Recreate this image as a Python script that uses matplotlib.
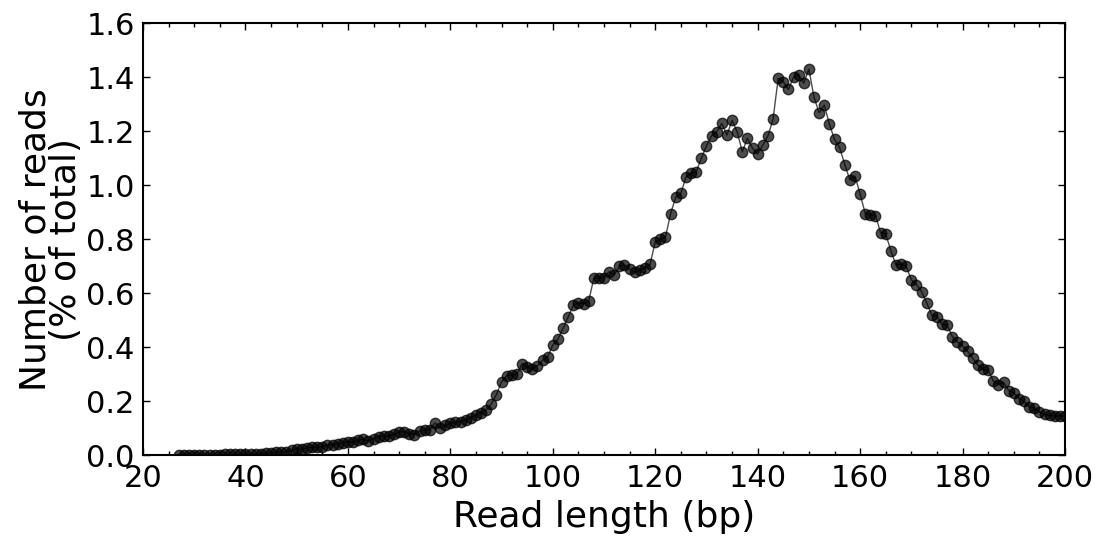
import matplotlib
matplotlib.use("Agg")
import matplotlib.pyplot as plt
from matplotlib.ticker import MultipleLocator, FormatStrFormatter
import numpy as np

# read length (bp) and share of reads (% of total)
lengths = np.arange(27, 201)
reads = [
    0.002, 0.002, 0.002, 0.002, 0.002, 0.002, 0.002, 0.002, 0.002,   # 27-35
    0.003, 0.003, 0.003, 0.003, 0.004, 0.004, 0.004, 0.005,          # 36-43
    0.008, 0.010, 0.011, 0.012, 0.013, 0.018, 0.025, 0.022, 0.028,   # 44-52
    0.030, 0.030, 0.032, 0.038, 0.040, 0.042, 0.046, 0.050, 0.048,   # 53-61
    0.055, 0.060, 0.052, 0.062, 0.068, 0.072, 0.070, 0.078, 0.086,   # 62-70
    0.088, 0.080, 0.077, 0.090, 0.094, 0.095, 0.120, 0.100, 0.112,   # 71-79
    0.118, 0.122, 0.125, 0.130, 0.140, 0.148, 0.158, 0.168, 0.190,   # 80-88
    0.225, 0.272, 0.295, 0.298, 0.300, 0.340, 0.328, 0.318, 0.332,   # 89-97
    0.352, 0.365, 0.408, 0.430, 0.470, 0.512, 0.555, 0.565, 0.562,   # 98-106
    0.570, 0.655, 0.658, 0.658, 0.680, 0.668, 0.700, 0.705, 0.690,   # 107-115
    0.678, 0.685, 0.695, 0.708, 0.790, 0.800, 0.808, 0.895, 0.955,   # 116-124
    0.970, 1.030, 1.045, 1.050, 1.100, 1.146, 1.183, 1.198, 1.229,   # 125-133
    1.186, 1.240, 1.198, 1.124, 1.174, 1.137, 1.116, 1.149, 1.183,   # 134-142
    1.244, 1.396, 1.384, 1.355, 1.400, 1.409, 1.378, 1.430, 1.326,   # 143-151
    1.269, 1.297, 1.227, 1.170, 1.140, 1.077, 1.020, 1.034, 0.968,   # 152-160
    0.895, 0.890, 0.888, 0.825, 0.820, 0.758, 0.705, 0.708, 0.700,   # 161-169
    0.650, 0.632, 0.606, 0.565, 0.518, 0.514, 0.485, 0.482, 0.440,   # 170-178
    0.420, 0.405, 0.385, 0.359, 0.334, 0.318, 0.316, 0.275, 0.262,   # 179-187
    0.270, 0.240, 0.232, 0.210, 0.200, 0.180, 0.175, 0.160, 0.152,   # 188-196
    0.148, 0.145, 0.146, 0.146,                                      # 197-200
]

plt.rcParams['font.family'] = 'DejaVu Sans'

fig = plt.figure(figsize=(11.01, 5.43), dpi=100)
ax = fig.add_axes([0.1299, 0.1615, 0.8374, 0.7956])

ax.plot(lengths, reads, 'o-', color='black', alpha=0.7,
        markersize=7.5, linewidth=1.0)

ax.set_xlim(20, 200)
ax.set_ylim(0, 1.6)
ax.xaxis.set_major_locator(MultipleLocator(20))
ax.xaxis.set_minor_locator(MultipleLocator(5))
ax.yaxis.set_major_locator(MultipleLocator(0.2))
ax.yaxis.set_major_formatter(FormatStrFormatter('%.1f'))

ax.tick_params(which='both', direction='in', top=True, right=True)
ax.tick_params(which='major', length=5, width=1, labelsize=22, pad=6)
ax.tick_params(which='minor', length=3, width=1)
for s in ax.spines.values():
    s.set_linewidth(1.5)

ax.set_xlabel('Read length (bp)', fontsize=26, labelpad=5)
ax.set_ylabel('Number of reads\n(% of total)', fontsize=26,
              linespacing=0.9, labelpad=2)

fig.savefig('out.png', dpi=100, facecolor='white')
